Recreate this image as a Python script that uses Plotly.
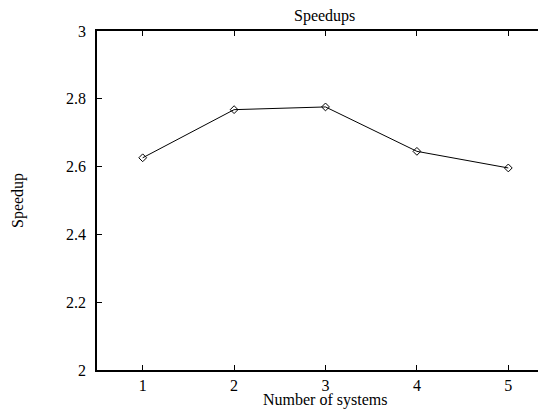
import plotly.graph_objects as go

systems = [1, 2, 3, 4, 5]
speedups = [2.626, 2.768, 2.776, 2.645, 2.596]
x_ticks = [1, 2, 3, 4, 5]
y_ticks = [2, 2.2, 2.4, 2.6, 2.8, 3]
y_tick_labels = ["2", "2.2", "2.4", "2.6", "2.8", "3"]

FAM = "Liberation Serif, Times New Roman, serif"
W, H = 546, 409
OFF = 8  # page body margin
L, R, T, B = 97 - OFF, 0, 31 - OFF, H - (370 - OFF)

fig = go.Figure()
fig.add_trace(go.Scatter(
    x=systems, y=speedups, mode="lines+markers",
    line=dict(color="black", width=1),
    marker=dict(symbol="diamond-open", size=6, color="black", line=dict(width=1)),
    showlegend=False,
))

def px(x):
    return (x - OFF - L) / (W - L - R)

def py(y):
    return (H - B - (y - OFF)) / (H - T - B)

ann_font = dict(family=FAM, size=16, color="black")
fig.update_layout(
    width=W, height=H,
    margin=dict(l=L, r=R, t=T, b=B, autoexpand=False),
    paper_bgcolor="white", plot_bgcolor="white",
    font=dict(family=FAM, size=16, color="black"),
    annotations=[
        dict(text="Speedups", x=px(324), y=py(16), xref="paper", yref="paper",
             xanchor="center", yanchor="middle", borderpad=0, showarrow=False, font=ann_font),
        dict(text="Number of systems", x=px(325), y=py(400), xref="paper", yref="paper",
             xanchor="center", yanchor="middle", borderpad=0, showarrow=False, font=ann_font),
        dict(text="Speedup", x=px(18), y=py(201), xref="paper", yref="paper",
             xanchor="center", yanchor="middle", borderpad=0,
             textangle=-90, showarrow=False, font=ann_font),
    ],
)
fig.update_xaxes(
    range=[0.5, 5.5], tickvals=x_ticks, ticktext=[str(v) for v in x_ticks],
    showgrid=False, zeroline=False, automargin=False,
    showline=True, linecolor="black", linewidth=1.5, mirror="ticks",
    ticks="inside", ticklen=5, tickcolor="black", tickwidth=1,
    tickfont=dict(size=16), ticklabelstandoff=0,
)
fig.update_yaxes(
    range=[2, 3], tickvals=y_ticks, ticktext=y_tick_labels,
    showgrid=False, zeroline=False, automargin=False,
    showline=True, linecolor="black", linewidth=1.5, mirror="ticks",
    ticks="inside", ticklen=5, tickcolor="black", tickwidth=1,
    tickfont=dict(size=16), ticklabelstandoff=6,
)

fig.write_html("out.html")
